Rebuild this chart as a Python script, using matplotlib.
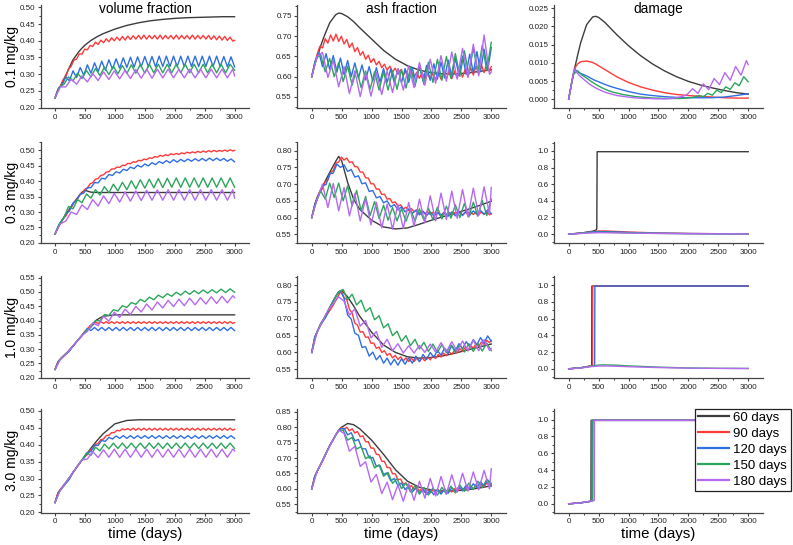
import numpy as np
import matplotlib.pyplot as plt
from matplotlib.lines import Line2D
from matplotlib.ticker import MultipleLocator, FormatStrFormatter

plt.rcParams['font.family'] = ['Liberation Sans', 'DejaVu Sans']

# dosing intervals (legend), rows (dose) and columns (quantity)
intervals = [60, 90, 120, 150, 180]
interval_labels = ['60 days', '90 days', '120 days', '150 days', '180 days']
doses = ['0.1 mg/kg', '0.3 mg/kg', '1.0 mg/kg', '3.0 mg/kg']
quantities = ['volume fraction', 'ash fraction', 'damage']
colors = ['#3c3c3c', '#ff3a3a', '#2f6fe4', '#2ca55d', '#b569f2']

# time grids (days) for the smooth curves
t_smooth = [0, 50, 100, 150, 200, 300, 400, 450, 500, 600, 700, 800, 1000,
            1200, 1400, 1600, 1800, 2000, 2200, 2400, 2600, 2800, 3000]
t_dmg = [0, 200, 400, 500, 600, 800, 1000, 1500, 2000, 2500, 3000]

# the 90..180 day curves are read every half dosing interval, from day 0

# ---- 0.1 mg/kg ----
vf1_60 = [0.229, 0.255, 0.267, 0.286, 0.305, 0.343, 0.368, 0.378, 0.387, 0.401, 0.412, 0.421, 0.435,
          0.446, 0.454, 0.460, 0.464, 0.467, 0.469, 0.470, 0.471, 0.472, 0.472]
vf1_90 = [0.229, 0.252, 0.265, 0.284, 0.293, 0.315, 0.324, 0.342, 0.345, 0.361, 0.360, 0.375, 0.373,
          0.386, 0.383, 0.396, 0.389, 0.402, 0.394, 0.406, 0.397, 0.409, 0.400, 0.411, 0.401, 0.413,
          0.402, 0.414, 0.404, 0.415, 0.405, 0.416, 0.405, 0.417, 0.405, 0.416, 0.406, 0.416, 0.405,
          0.417, 0.405, 0.416, 0.406, 0.416, 0.405, 0.417, 0.405, 0.416, 0.406, 0.416, 0.405, 0.417,
          0.405, 0.416, 0.406, 0.416, 0.405, 0.416, 0.404, 0.415, 0.403, 0.414, 0.402, 0.413, 0.401,
          0.411, 0.399, 0.401]
vf1_120 = [0.229, 0.258, 0.268, 0.292, 0.280, 0.310, 0.290, 0.320, 0.297, 0.328, 0.303, 0.334, 0.308,
           0.339, 0.312, 0.343, 0.315, 0.346, 0.318, 0.349, 0.320, 0.351, 0.321, 0.352, 0.322, 0.353,
           0.322, 0.353, 0.322, 0.354, 0.323, 0.354, 0.323, 0.354, 0.323, 0.354, 0.323, 0.354, 0.323,
           0.354, 0.323, 0.354, 0.323, 0.354, 0.323, 0.354, 0.323, 0.353, 0.322, 0.352, 0.322]
vf1_150 = [0.229, 0.262, 0.270, 0.292, 0.280, 0.303, 0.287, 0.311, 0.292, 0.317, 0.296, 0.321, 0.299,
           0.324, 0.301, 0.326, 0.302, 0.328, 0.303, 0.329, 0.303, 0.330, 0.304, 0.330, 0.304, 0.330,
           0.304, 0.330, 0.304, 0.330, 0.304, 0.330, 0.304, 0.330, 0.304, 0.330, 0.304, 0.330, 0.304,
           0.330, 0.312]
vf1_180 = [0.229, 0.262, 0.262, 0.285, 0.270, 0.295, 0.277, 0.302, 0.281, 0.307, 0.284, 0.310, 0.286,
           0.312, 0.287, 0.314, 0.288, 0.315, 0.288, 0.315, 0.289, 0.315, 0.289, 0.315, 0.289, 0.315,
           0.289, 0.315, 0.289, 0.315, 0.289, 0.315, 0.289, 0.315, 0.295]

ash1_60 = [0.600, 0.630, 0.652, 0.676, 0.697, 0.733, 0.753, 0.757, 0.756, 0.748, 0.736, 0.721, 0.693,
           0.665, 0.643, 0.627, 0.616, 0.610, 0.607, 0.607, 0.609, 0.613, 0.617]
ash1_90 = [0.600, 0.632, 0.655, 0.675, 0.671, 0.694, 0.683, 0.703, 0.688, 0.705, 0.687, 0.700, 0.681,
           0.692, 0.672, 0.683, 0.662, 0.672, 0.653, 0.662, 0.643, 0.653, 0.635, 0.645, 0.629, 0.638,
           0.622, 0.631, 0.616, 0.626, 0.612, 0.621, 0.607, 0.617, 0.604, 0.614, 0.601, 0.612, 0.599,
           0.611, 0.596, 0.610, 0.595, 0.608, 0.594, 0.609, 0.593, 0.610, 0.594, 0.610, 0.595, 0.613,
           0.595, 0.614, 0.597, 0.616, 0.599, 0.619, 0.600, 0.622, 0.604, 0.626, 0.607, 0.629, 0.610,
           0.633, 0.613, 0.625]
ash1_120 = [0.600, 0.640, 0.660, 0.625, 0.657, 0.618, 0.652, 0.611, 0.646, 0.605, 0.640, 0.600, 0.634,
            0.596, 0.629, 0.592, 0.625, 0.589, 0.622, 0.587, 0.620, 0.586, 0.619, 0.585, 0.619, 0.585,
            0.620, 0.586, 0.622, 0.587, 0.625, 0.589, 0.628, 0.591, 0.632, 0.594, 0.636, 0.597, 0.641,
            0.600, 0.646, 0.603, 0.651, 0.606, 0.656, 0.609, 0.662, 0.612, 0.668, 0.615, 0.672]
ash1_150 = [0.600, 0.645, 0.655, 0.612, 0.645, 0.600, 0.635, 0.588, 0.626, 0.579, 0.619, 0.573, 0.614,
            0.569, 0.612, 0.567, 0.612, 0.567, 0.614, 0.569, 0.618, 0.572, 0.623, 0.576, 0.629, 0.581,
            0.636, 0.586, 0.643, 0.591, 0.650, 0.596, 0.657, 0.601, 0.664, 0.606, 0.671, 0.611, 0.678,
            0.616, 0.685]
ash1_180 = [0.600, 0.650, 0.660, 0.598, 0.640, 0.575, 0.625, 0.558, 0.614, 0.551, 0.609, 0.552, 0.610,
            0.556, 0.614, 0.561, 0.620, 0.567, 0.627, 0.573, 0.635, 0.579, 0.643, 0.584, 0.652, 0.589,
            0.661, 0.594, 0.670, 0.598, 0.680, 0.602, 0.703, 0.606, 0.612]

dmg1_60 = [0.0000, 0.0045, 0.0085, 0.0121, 0.0155, 0.0205, 0.0226, 0.0228, 0.0225, 0.0212, 0.0195,
           0.0178, 0.0147, 0.0120, 0.0097, 0.0078, 0.0062, 0.0049, 0.0039, 0.0031, 0.0024, 0.0018, 0.0014]
dmg1_90 = [0.0000, 0.0045, 0.0085, 0.0097, 0.0103, 0.0105, 0.0101, 0.0097, 0.0092, 0.0082, 0.0072,
           0.0062, 0.0046, 0.0034, 0.0025, 0.0018, 0.0013, 0.0010, 0.0008, 0.0006, 0.0004, 0.0003, 0.0003]
dmg1_120 = [0.0000, 0.0045, 0.0083, 0.0075, 0.0071, 0.0064, 0.0055, 0.0051, 0.0048, 0.0041, 0.0035,
            0.0030, 0.0021, 0.0014, 0.0010, 0.0007, 0.0005, 0.0004, 0.0004, 0.0004, 0.0006, 0.0010, 0.0015]
dmg1_150 = [0.0000, 0.0068, 0.0078, 0.0066, 0.0058, 0.0049, 0.0041, 0.0034, 0.0028, 0.0023, 0.0019,
            0.0016, 0.0013, 0.0011, 0.0009, 0.0007, 0.0006, 0.0005, 0.0004, 0.0003, 0.0003, 0.0002,
            0.0002, 0.0002, 0.0002, 0.0002, 0.0003, 0.0004, 0.0006, 0.0010, 0.0007, 0.0016, 0.0011,
            0.0025, 0.0018, 0.0034, 0.0027, 0.0045, 0.0037, 0.0062, 0.0048]
dmg1_180 = [0.0000, 0.0082, 0.0065, 0.0052, 0.0040, 0.0031, 0.0024, 0.0018, 0.0014, 0.0010, 0.0008,
            0.0006, 0.0004, 0.0003, 0.0002, 0.0002, 0.0001, 0.0001, 0.0001, 0.0002, 0.0004, 0.0007,
            0.0013, 0.0029, 0.0016, 0.0042, 0.0026, 0.0057, 0.0040, 0.0073, 0.0052, 0.0090, 0.0066,
            0.0106, 0.0095]

# ---- 0.3 mg/kg ----
vf2_60 = [0.229, 0.250, 0.268, 0.283, 0.298, 0.327, 0.352, 0.364, 0.370, 0.364, 0.363, 0.363, 0.363,
          0.363, 0.363, 0.363, 0.363, 0.363, 0.363, 0.363, 0.363, 0.363, 0.363]
vf2_90 = [0.229, 0.248, 0.263, 0.278, 0.287, 0.304, 0.313, 0.330, 0.338, 0.354, 0.360, 0.373, 0.378,
          0.391, 0.395, 0.406, 0.408, 0.418, 0.420, 0.429, 0.430, 0.439, 0.439, 0.445, 0.444, 0.451,
          0.450, 0.457, 0.456, 0.462, 0.461, 0.467, 0.465, 0.471, 0.469, 0.475, 0.473, 0.479, 0.477,
          0.483, 0.480, 0.485, 0.482, 0.488, 0.485, 0.489, 0.486, 0.491, 0.488, 0.493, 0.490, 0.494,
          0.491, 0.496, 0.492, 0.497, 0.493, 0.498, 0.494, 0.499, 0.495, 0.499, 0.496, 0.500, 0.496,
          0.501, 0.497, 0.499]
vf2_120 = [0.229, 0.258, 0.273, 0.294, 0.303, 0.329, 0.336, 0.358, 0.361, 0.378, 0.379, 0.395, 0.394,
           0.409, 0.407, 0.421, 0.418, 0.430, 0.426, 0.438, 0.434, 0.445, 0.440, 0.451, 0.445, 0.455,
           0.449, 0.459, 0.453, 0.463, 0.457, 0.466, 0.459, 0.469, 0.461, 0.470, 0.463, 0.471, 0.464,
           0.472, 0.465, 0.473, 0.465, 0.474, 0.466, 0.474, 0.466, 0.473, 0.464, 0.471, 0.462]
vf2_150 = [0.229, 0.263, 0.283, 0.318, 0.310, 0.340, 0.330, 0.358, 0.345, 0.372, 0.355, 0.382, 0.362,
           0.390, 0.368, 0.396, 0.372, 0.401, 0.375, 0.404, 0.377, 0.406, 0.378, 0.408, 0.379, 0.409,
           0.380, 0.410, 0.380, 0.410, 0.380, 0.410, 0.380, 0.410, 0.380, 0.410, 0.380, 0.410, 0.380,
           0.410, 0.380]
vf2_180 = [0.229, 0.262, 0.271, 0.300, 0.292, 0.323, 0.308, 0.340, 0.319, 0.352, 0.327, 0.360, 0.332,
           0.365, 0.335, 0.368, 0.337, 0.370, 0.338, 0.371, 0.338, 0.372, 0.338, 0.372, 0.338, 0.372,
           0.338, 0.372, 0.338, 0.372, 0.338, 0.372, 0.338, 0.372, 0.345]

ash2_60 = [0.600, 0.640, 0.665, 0.683, 0.700, 0.735, 0.768, 0.783, 0.770, 0.705, 0.655, 0.625, 0.592,
           0.572, 0.566, 0.569, 0.580, 0.592, 0.603, 0.613, 0.624, 0.636, 0.649]
ash2_90 = [0.600, 0.632, 0.655, 0.678, 0.686, 0.707, 0.712, 0.734, 0.741, 0.763, 0.766, 0.781, 0.772,
           0.778, 0.765, 0.767, 0.752, 0.752, 0.736, 0.736, 0.719, 0.718, 0.701, 0.701, 0.685, 0.685,
           0.669, 0.670, 0.655, 0.657, 0.644, 0.647, 0.634, 0.638, 0.626, 0.631, 0.621, 0.627, 0.617,
           0.623, 0.613, 0.620, 0.611, 0.618, 0.609, 0.616, 0.608, 0.615, 0.607, 0.615, 0.607, 0.615,
           0.607, 0.615, 0.608, 0.616, 0.608, 0.616, 0.609, 0.617, 0.609, 0.617, 0.609, 0.617, 0.609,
           0.617, 0.608, 0.612]
ash2_120 = [0.600, 0.642, 0.668, 0.695, 0.699, 0.732, 0.733, 0.760, 0.750, 0.758, 0.738, 0.744, 0.721,
            0.725, 0.701, 0.704, 0.678, 0.681, 0.659, 0.663, 0.644, 0.650, 0.632, 0.639, 0.623, 0.632,
            0.617, 0.626, 0.612, 0.622, 0.608, 0.619, 0.606, 0.617, 0.605, 0.616, 0.604, 0.616, 0.604,
            0.617, 0.605, 0.618, 0.606, 0.619, 0.607, 0.620, 0.609, 0.621, 0.610, 0.623, 0.611]
ash2_150 = [0.600, 0.647, 0.680, 0.655, 0.703, 0.660, 0.703, 0.650, 0.695, 0.635, 0.681, 0.620, 0.663,
            0.606, 0.648, 0.597, 0.637, 0.592, 0.630, 0.590, 0.626, 0.589, 0.625, 0.590, 0.626, 0.592,
            0.628, 0.594, 0.631, 0.596, 0.634, 0.598, 0.638, 0.600, 0.642, 0.602, 0.646, 0.604, 0.651,
            0.606, 0.655]
ash2_180 = [0.600, 0.655, 0.700, 0.630, 0.702, 0.620, 0.690, 0.605, 0.672, 0.590, 0.656, 0.578, 0.646,
            0.569, 0.640, 0.565, 0.640, 0.567, 0.645, 0.575, 0.655, 0.584, 0.665, 0.590, 0.673, 0.594,
            0.679, 0.598, 0.684, 0.602, 0.688, 0.606, 0.692, 0.610, 0.690]

dmg2_60_t = [0, 200, 400, 460, 470, 476, 3000]
dmg2_60 = [0.000, 0.012, 0.035, 0.050, 0.070, 0.990, 0.990]
dmg2_90 = [0.000, 0.012, 0.030, 0.038, 0.038, 0.032, 0.025, 0.014, 0.008, 0.005, 0.004]
dmg2_120 = [0.000, 0.012, 0.028, 0.030, 0.029, 0.026, 0.020, 0.011, 0.007, 0.005, 0.004]
dmg2_150 = [0.000, 0.010, 0.020, 0.022, 0.022, 0.019, 0.015, 0.009, 0.006, 0.004, 0.003]
dmg2_180 = [0.000, 0.008, 0.016, 0.017, 0.017, 0.015, 0.012, 0.008, 0.005, 0.004, 0.003]

# ---- 1.0 mg/kg ----
vf3_60 = [0.229, 0.256, 0.268, 0.278, 0.288, 0.311, 0.336, 0.348, 0.361, 0.383, 0.403, 0.415, 0.420,
          0.420, 0.420, 0.420, 0.420, 0.420, 0.420, 0.420, 0.420, 0.420, 0.420]
vf3_90 = [0.229, 0.254, 0.266, 0.275, 0.284, 0.293, 0.304, 0.315, 0.326, 0.337, 0.348, 0.362, 0.368,
          0.383, 0.384, 0.394, 0.390, 0.396, 0.390, 0.396, 0.390, 0.396, 0.390, 0.396, 0.390, 0.396,
          0.390, 0.396, 0.390, 0.396, 0.390, 0.396, 0.390, 0.396, 0.390, 0.396, 0.390, 0.396, 0.390,
          0.396, 0.390, 0.396, 0.390, 0.396, 0.390, 0.396, 0.390, 0.396, 0.390, 0.396, 0.390, 0.396,
          0.390, 0.396, 0.390, 0.396, 0.390, 0.396, 0.390, 0.396, 0.390, 0.396, 0.390, 0.396, 0.390,
          0.396, 0.390, 0.393]
vf3_120 = [0.229, 0.258, 0.270, 0.282, 0.293, 0.311, 0.326, 0.340, 0.355, 0.373, 0.365, 0.376, 0.365,
           0.376, 0.365, 0.376, 0.365, 0.376, 0.365, 0.376, 0.365, 0.376, 0.365, 0.376, 0.365, 0.376,
           0.365, 0.376, 0.365, 0.376, 0.365, 0.376, 0.365, 0.376, 0.365, 0.376, 0.365, 0.376, 0.365,
           0.376, 0.365, 0.376, 0.365, 0.376, 0.365, 0.376, 0.365, 0.376, 0.365, 0.376, 0.365]
vf3_150 = [0.229, 0.262, 0.278, 0.292, 0.311, 0.330, 0.348, 0.366, 0.376, 0.400, 0.399, 0.421, 0.418,
           0.438, 0.433, 0.452, 0.446, 0.463, 0.457, 0.474, 0.466, 0.482, 0.473, 0.489, 0.480, 0.494,
           0.485, 0.499, 0.489, 0.503, 0.492, 0.505, 0.494, 0.507, 0.496, 0.508, 0.497, 0.510, 0.498,
           0.511, 0.499]
vf3_180 = [0.229, 0.265, 0.281, 0.304, 0.326, 0.348, 0.362, 0.392, 0.382, 0.415, 0.398, 0.429, 0.411,
           0.440, 0.421, 0.450, 0.430, 0.458, 0.437, 0.465, 0.444, 0.471, 0.449, 0.475, 0.452, 0.478,
           0.455, 0.480, 0.458, 0.483, 0.460, 0.485, 0.462, 0.487, 0.480]

ash3_60 = [0.600, 0.645, 0.665, 0.685, 0.700, 0.733, 0.766, 0.780, 0.784, 0.765, 0.738, 0.708, 0.660,
           0.622, 0.600, 0.587, 0.583, 0.585, 0.590, 0.598, 0.607, 0.616, 0.625]
ash3_90 = [0.600, 0.640, 0.660, 0.680, 0.692, 0.705, 0.716, 0.728, 0.741, 0.755, 0.770, 0.783, 0.763,
           0.757, 0.728, 0.717, 0.687, 0.681, 0.660, 0.662, 0.645, 0.646, 0.627, 0.628, 0.612, 0.616,
           0.600, 0.605, 0.591, 0.597, 0.584, 0.591, 0.579, 0.587, 0.575, 0.584, 0.573, 0.583, 0.573,
           0.583, 0.573, 0.584, 0.575, 0.587, 0.578, 0.590, 0.582, 0.594, 0.586, 0.598, 0.590, 0.602,
           0.594, 0.606, 0.599, 0.611, 0.603, 0.615, 0.607, 0.620, 0.613, 0.625, 0.618, 0.631, 0.624,
           0.636, 0.629, 0.636]
ash3_120 = [0.600, 0.650, 0.672, 0.690, 0.706, 0.733, 0.753, 0.772, 0.782, 0.761, 0.711, 0.699, 0.657,
            0.651, 0.615, 0.617, 0.589, 0.601, 0.578, 0.591, 0.568, 0.583, 0.563, 0.580, 0.562, 0.581,
            0.565, 0.584, 0.568, 0.589, 0.573, 0.594, 0.579, 0.600, 0.585, 0.606, 0.592, 0.613, 0.598,
            0.620, 0.605, 0.626, 0.611, 0.632, 0.617, 0.638, 0.623, 0.644, 0.628, 0.649, 0.633]
ash3_150 = [0.600, 0.655, 0.685, 0.705, 0.733, 0.758, 0.780, 0.787, 0.756, 0.773, 0.741, 0.755, 0.721,
            0.733, 0.697, 0.709, 0.673, 0.685, 0.650, 0.663, 0.633, 0.650, 0.620, 0.639, 0.610, 0.630,
            0.603, 0.625, 0.600, 0.623, 0.599, 0.623, 0.600, 0.624, 0.601, 0.626, 0.603, 0.627, 0.604,
            0.628, 0.605]
ash3_180 = [0.600, 0.660, 0.693, 0.725, 0.745, 0.765, 0.752, 0.711, 0.729, 0.678, 0.695, 0.643, 0.662,
            0.615, 0.639, 0.605, 0.626, 0.598, 0.620, 0.598, 0.621, 0.600, 0.625, 0.601, 0.629, 0.602,
            0.632, 0.603, 0.634, 0.604, 0.636, 0.605, 0.638, 0.606, 0.612]

dmg3_60_t = [0, 200, 380, 385, 388, 3000]
dmg3_60 = [0.000, 0.012, 0.033, 0.045, 0.990, 0.990]
dmg3_90_t = [0, 200, 395, 398, 402, 3000]
dmg3_90 = [0.000, 0.012, 0.040, 0.060, 0.990, 0.990]
dmg3_120_t = [0, 200, 400, 430, 434, 438, 3000]
dmg3_120 = [0.000, 0.012, 0.035, 0.045, 0.060, 0.990, 0.990]
dmg3_150 = [0.000, 0.012, 0.035, 0.045, 0.047, 0.043, 0.035, 0.020, 0.010, 0.006, 0.004]
dmg3_180 = [0.000, 0.010, 0.028, 0.033, 0.034, 0.031, 0.025, 0.015, 0.008, 0.005, 0.004]

# ---- 3.0 mg/kg ----
vf4_60 = [0.229, 0.258, 0.270, 0.281, 0.293, 0.318, 0.343, 0.355, 0.366, 0.390, 0.412, 0.432, 0.462,
          0.472, 0.474, 0.474, 0.474, 0.474, 0.474, 0.474, 0.474, 0.474, 0.474]
vf4_90 = [0.229, 0.256, 0.268, 0.278, 0.288, 0.299, 0.310, 0.322, 0.333, 0.344, 0.355, 0.364, 0.371,
          0.384, 0.389, 0.401, 0.404, 0.415, 0.417, 0.427, 0.428, 0.436, 0.436, 0.443, 0.441, 0.447,
          0.444, 0.448, 0.443, 0.449, 0.443, 0.449, 0.443, 0.449, 0.443, 0.449, 0.443, 0.449, 0.443,
          0.449, 0.443, 0.449, 0.443, 0.449, 0.443, 0.449, 0.443, 0.449, 0.443, 0.449, 0.443, 0.449,
          0.443, 0.449, 0.443, 0.449, 0.443, 0.449, 0.443, 0.449, 0.443, 0.449, 0.443, 0.449, 0.443,
          0.449, 0.443, 0.446]
vf4_120 = [0.229, 0.259, 0.272, 0.285, 0.298, 0.318, 0.333, 0.348, 0.361, 0.377, 0.380, 0.398, 0.398,
           0.413, 0.410, 0.422, 0.417, 0.426, 0.419, 0.427, 0.419, 0.427, 0.419, 0.427, 0.419, 0.427,
           0.419, 0.427, 0.419, 0.427, 0.419, 0.427, 0.419, 0.427, 0.419, 0.427, 0.419, 0.427, 0.419,
           0.427, 0.419, 0.427, 0.419, 0.427, 0.419, 0.427, 0.419, 0.427, 0.419, 0.427, 0.419]
vf4_150 = [0.229, 0.263, 0.281, 0.299, 0.318, 0.337, 0.355, 0.376, 0.369, 0.393, 0.382, 0.402, 0.388,
           0.405, 0.389, 0.405, 0.389, 0.405, 0.389, 0.405, 0.389, 0.405, 0.389, 0.405, 0.389, 0.405,
           0.389, 0.405, 0.389, 0.405, 0.389, 0.405, 0.389, 0.405, 0.389, 0.405, 0.389, 0.405, 0.389,
           0.405, 0.389]
vf4_180 = [0.229, 0.266, 0.288, 0.310, 0.333, 0.355, 0.358, 0.380, 0.362, 0.385, 0.363, 0.387, 0.363,
           0.387, 0.363, 0.387, 0.363, 0.387, 0.363, 0.387, 0.363, 0.387, 0.363, 0.387, 0.363, 0.387,
           0.363, 0.387, 0.363, 0.387, 0.363, 0.387, 0.363, 0.387, 0.382]

ash4_60 = [0.600, 0.640, 0.660, 0.680, 0.700, 0.740, 0.775, 0.790, 0.800, 0.812, 0.808, 0.795, 0.758,
           0.712, 0.662, 0.625, 0.605, 0.597, 0.593, 0.594, 0.597, 0.603, 0.610]
ash4_90 = [0.600, 0.638, 0.657, 0.674, 0.690, 0.710, 0.728, 0.745, 0.760, 0.776, 0.790, 0.800, 0.792,
           0.800, 0.788, 0.795, 0.781, 0.786, 0.769, 0.772, 0.753, 0.753, 0.732, 0.732, 0.712, 0.711,
           0.690, 0.689, 0.669, 0.669, 0.649, 0.649, 0.630, 0.632, 0.615, 0.619, 0.605, 0.611, 0.598,
           0.605, 0.593, 0.601, 0.589, 0.598, 0.587, 0.597, 0.587, 0.597, 0.587, 0.597, 0.588, 0.599,
           0.590, 0.601, 0.592, 0.603, 0.594, 0.605, 0.597, 0.608, 0.600, 0.611, 0.603, 0.615, 0.607,
           0.619, 0.611, 0.617]
ash4_120 = [0.600, 0.645, 0.668, 0.690, 0.716, 0.740, 0.760, 0.781, 0.795, 0.796, 0.775, 0.782, 0.756,
            0.760, 0.730, 0.730, 0.700, 0.702, 0.673, 0.676, 0.647, 0.652, 0.626, 0.634, 0.611, 0.619,
            0.598, 0.610, 0.590, 0.603, 0.585, 0.599, 0.582, 0.597, 0.581, 0.598, 0.583, 0.600, 0.586,
            0.604, 0.590, 0.608, 0.594, 0.612, 0.599, 0.617, 0.604, 0.623, 0.610, 0.629, 0.616]
ash4_150 = [0.600, 0.651, 0.680, 0.710, 0.740, 0.765, 0.790, 0.790, 0.758, 0.767, 0.729, 0.737, 0.698,
            0.707, 0.668, 0.678, 0.641, 0.653, 0.618, 0.633, 0.601, 0.619, 0.590, 0.610, 0.583, 0.605,
            0.580, 0.603, 0.580, 0.605, 0.583, 0.609, 0.587, 0.613, 0.592, 0.619, 0.598, 0.625, 0.604,
            0.631, 0.609]
ash4_180 = [0.600, 0.657, 0.690, 0.728, 0.760, 0.790, 0.780, 0.722, 0.738, 0.673, 0.688, 0.622, 0.647,
            0.585, 0.622, 0.565, 0.613, 0.560, 0.617, 0.563, 0.625, 0.570, 0.634, 0.577, 0.640, 0.583,
            0.646, 0.589, 0.651, 0.593, 0.655, 0.597, 0.660, 0.600, 0.665]

dmg4_60_t = [0, 200, 368, 372, 375, 3000]
dmg4_90_t = [0, 200, 381, 385, 388, 3000]
dmg4_120_t = [0, 200, 391, 395, 398, 3000]
dmg4_150_t = [0, 200, 398, 402, 405, 3000]
dmg4_180_t = [0, 200, 424, 428, 431, 3000]
dmg4_60 = [0.000, 0.012, 0.030, 0.040, 0.990, 0.990]
dmg4_90 = [0.000, 0.012, 0.031, 0.041, 0.990, 0.990]
dmg4_120 = [0.000, 0.012, 0.033, 0.043, 0.990, 0.990]
dmg4_150 = [0.000, 0.012, 0.034, 0.044, 0.990, 0.990]
dmg4_180 = [0.000, 0.012, 0.038, 0.048, 0.990, 0.990]


def half_grid(period, n):
    # one point every half dosing interval, last point clipped to day 3000
    return np.minimum(np.arange(n) * period / 2, 3000)


def teeth(v60, *rest):
    out = [(t_smooth, v60)]
    for p, v in zip(intervals[1:], rest):
        out.append((half_grid(p, len(v)), v))
    return out


panels = [
    [teeth(vf1_60, vf1_90, vf1_120, vf1_150, vf1_180),
     teeth(ash1_60, ash1_90, ash1_120, ash1_150, ash1_180),
     [(t_smooth, dmg1_60), (t_smooth, dmg1_90), (t_smooth, dmg1_120),
      (half_grid(150, len(dmg1_150)), dmg1_150), (half_grid(180, len(dmg1_180)), dmg1_180)]],
    [teeth(vf2_60, vf2_90, vf2_120, vf2_150, vf2_180),
     teeth(ash2_60, ash2_90, ash2_120, ash2_150, ash2_180),
     [(dmg2_60_t, dmg2_60), (t_dmg, dmg2_90), (t_dmg, dmg2_120), (t_dmg, dmg2_150), (t_dmg, dmg2_180)]],
    [teeth(vf3_60, vf3_90, vf3_120, vf3_150, vf3_180),
     teeth(ash3_60, ash3_90, ash3_120, ash3_150, ash3_180),
     [(dmg3_60_t, dmg3_60), (dmg3_90_t, dmg3_90), (dmg3_120_t, dmg3_120), (t_dmg, dmg3_150), (t_dmg, dmg3_180)]],
    [teeth(vf4_60, vf4_90, vf4_120, vf4_150, vf4_180),
     teeth(ash4_60, ash4_90, ash4_120, ash4_150, ash4_180),
     [(dmg4_60_t, dmg4_60), (dmg4_90_t, dmg4_90), (dmg4_120_t, dmg4_120),
      (dmg4_150_t, dmg4_150), (dmg4_180_t, dmg4_180)]],
]

ylims = [[(0.198, 0.507), (0.522, 0.777), (-0.0025, 0.0259)],
         [(0.199, 0.527), (0.523, 0.827), (-0.11, 1.11)],
         [(0.199, 0.556), (0.524, 0.827), (-0.11, 1.11)],
         [(0.199, 0.506), (0.523, 0.859), (-0.105, 1.125)]]

fig = plt.figure(figsize=(7.93, 5.45), dpi=100)
col_left = [0.0513, 0.375, 0.699]
col_w = 0.263
row_box = [(0.8013, 0.1895), (0.5536, 0.1864), (0.3064, 0.1872), (0.0593, 0.1903)]

for r in range(4):
    for c in range(3):
        ax = fig.add_axes([col_left[c], row_box[r][0], col_w, row_box[r][1]])
        for (t, v), color in zip(panels[r][c], colors):
            ax.plot(t, v, color=color, lw=1.0)
        ax.set_xlim(-240, 3245)
        ax.set_ylim(*ylims[r][c])
        ax.xaxis.set_major_locator(MultipleLocator(500))
        ax.xaxis.set_minor_locator(MultipleLocator(250))
        if c == 2 and r == 0:
            step, fmt = 0.005, '%.3f'
        elif c == 2:
            step, fmt = 0.2, '%.1f'
        else:
            step, fmt = 0.05, '%.2f'
        ax.yaxis.set_major_locator(MultipleLocator(step))
        ax.yaxis.set_minor_locator(MultipleLocator(step / 2))
        ax.yaxis.set_major_formatter(FormatStrFormatter(fmt))
        for side in ['top', 'right']:
            ax.spines[side].set_visible(False)
        for side in ['left', 'bottom']:
            ax.spines[side].set_color('#444444')
            ax.spines[side].set_linewidth(0.9)
        ax.tick_params(which='major', direction='out', length=2.5, width=0.8,
                       labelsize=5.8, pad=1.5, colors='#444444', labelcolor='#222222')
        ax.tick_params(which='minor', direction='out', length=1.5, width=0.7, colors='#444444')

    yc = row_box[r][0] + row_box[r][1] / 2
    fig.text(0.0151, yc, doses[r], rotation=90, ha='center', va='center', fontsize=10)

for c in range(3):
    xc = col_left[c] + col_w / 2
    fig.text(xc, 0.976, quantities[c], ha='center', va='baseline', fontsize=9.8)
    fig.text(xc, 0.021, 'time (days)', ha='center', va='center', fontsize=10.8)

handles = [Line2D([], [], color=col, lw=1.6) for col in colors]
leg = fig.legend(handles, interval_labels, loc='upper right',
                 bbox_to_anchor=(790.5 / 793, 1 - 408.5 / 545), fontsize=9.5,
                 frameon=True, fancybox=False, edgecolor='#222222', framealpha=1,
                 handlelength=2.3, handletextpad=0.35, labelspacing=0.28,
                 borderpad=0.25, borderaxespad=0)
leg.get_frame().set_linewidth(0.9)

fig.savefig('out.png', dpi=100)
